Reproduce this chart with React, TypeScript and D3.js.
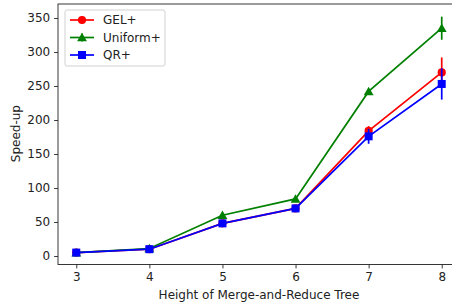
import React, { useEffect, useRef } from "react";
import * as d3 from "d3";

const heights = [3, 4, 5, 6, 7, 8];
const gelMean = [5, 10, 48, 70, 184, 270];
const gelErr = [1, 1, 2, 2, 7, 22];
const uniformMean = [5, 11, 60, 84, 242, 335];
const uniformErr = [1, 1, 2, 2, 3, 17];
const qrMean = [5, 10, 48, 70, 176, 253];
const qrErr = [1, 1, 2, 2, 11, 23];
const yTicks = [0, 50, 100, 150, 200, 250, 300, 350];

const series = [
  { name: "GEL+", color: "red", marker: "circle", mean: gelMean, err: gelErr },
  { name: "Uniform+", color: "green", marker: "triangle", mean: uniformMean, err: uniformErr },
  { name: "QR+", color: "blue", marker: "square", mean: qrMean, err: qrErr },
];

function App() {
  const ref = useRef<SVGSVGElement>(null);

  useEffect(() => {
    const width = 452;
    const height = 303;
    const margin = { top: 4, left: 58, bottom: 38.5, right: -8 };
    const iwidth = width - margin.left - margin.right;
    const iheight = height - margin.top - margin.bottom;
    const fs = 12;

    const svg = d3.select(ref.current);
    svg.selectAll("*").remove();
    const font = "'DejaVu Sans', sans-serif";

    const g = svg.append("g").attr("transform", `translate(${margin.left}, ${margin.top})`);

    const x = d3.scaleLinear().domain([2.75, 8.25]).range([0, iwidth]);
    const y = d3.scaleLinear().domain([-12.5, 370.6]).range([iheight, 0]);

    const symbolFor = (m: string) => {
      if (m === "circle") return d3.symbol().type(d3.symbolCircle).size(Math.PI * 4.1 * 4.1);
      if (m === "triangle") return d3.symbol().type(d3.symbolTriangle).size(42);
      return d3.symbol().type(d3.symbolSquare).size(64);
    };

    series.forEach((s) => {
      const pts = heights.map((h, i) => ({ h, m: s.mean[i], e: s.err[i] }));
      const sg = g.append("g");
      sg.selectAll("line.err")
        .data(pts)
        .enter()
        .append("line")
        .attr("x1", (d) => x(d.h))
        .attr("x2", (d) => x(d.h))
        .attr("y1", (d) => y(d.m - d.e))
        .attr("y2", (d) => y(d.m + d.e))
        .attr("stroke", s.color)
        .attr("stroke-width", 1.7);
      const line = d3.line<any>().x((d) => x(d.h)).y((d) => y(d.m));
      sg.append("path")
        .datum(pts)
        .attr("d", line)
        .attr("fill", "none")
        .attr("stroke", s.color)
        .attr("stroke-width", 1.7);
      sg.selectAll("path.mk")
        .data(pts)
        .enter()
        .append("path")
        .attr("d", symbolFor(s.marker)() as string)
        .attr("transform", (d) => `translate(${x(d.h)},${y(d.m) + (s.marker === "triangle" ? 1 : 0)})`)
        .attr("fill", s.color);
    });

    // axes
    const xAxis = g.append("g")
      .attr("transform", `translate(0, ${iheight})`)
      .call(d3.axisBottom(x).tickValues(heights).tickSize(3.9).tickPadding(3.9).tickFormat(d3.format("d")));
    const yAxis = g.append("g")
      .call(d3.axisLeft(y).tickValues(yTicks).tickSize(3.9).tickPadding(3.9));
    [xAxis, yAxis].forEach((a) => {
      a.selectAll("text").attr("font-family", font).attr("font-size", fs).attr("fill", "#222");
      a.selectAll("line").attr("stroke", "#222").attr("stroke-width", 0.9);
      a.select(".domain").remove();
    });

    g.append("rect")
      .attr("x", 0)
      .attr("y", 0)
      .attr("width", iwidth)
      .attr("height", iheight)
      .attr("fill", "none")
      .attr("stroke", "#222")
      .attr("stroke-width", 0.9);

    svg.append("text")
      .attr("x", margin.left + x(5.5))
      .attr("y", 299)
      .attr("text-anchor", "middle")
      .attr("font-family", font)
      .attr("font-size", fs)
      .attr("fill", "#222")
      .text("Height of Merge-and-Reduce Tree");

    svg.append("text")
      .attr("transform", `translate(20, ${margin.top + y(180)}) rotate(-90)`)
      .attr("text-anchor", "middle")
      .attr("font-family", font)
      .attr("font-size", fs)
      .attr("fill", "#222")
      .text("Speed-up");

    // legend
    const lg = svg.append("g").attr("transform", "translate(65, 10)");
    lg.append("rect")
      .attr("width", 100)
      .attr("height", 56)
      .attr("rx", 2)
      .attr("fill", "white")
      .attr("fill-opacity", 0.8)
      .attr("stroke", "#ccc")
      .attr("stroke-width", 0.9);
    series.forEach((s, i) => {
      const cy = 10 + i * 17.5;
      lg.append("line")
        .attr("x1", 5).attr("x2", 29).attr("y1", cy).attr("y2", cy)
        .attr("stroke", s.color).attr("stroke-width", 1.7);
      lg.append("line")
        .attr("x1", 17).attr("x2", 17).attr("y1", cy - 4).attr("y2", cy + 4)
        .attr("stroke", s.color).attr("stroke-width", 1.7);
      lg.append("path")
        .attr("d", symbolFor(s.marker)() as string)
        .attr("transform", `translate(17, ${cy + (s.marker === "triangle" ? 1 : 0)})`)
        .attr("fill", s.color);
      lg.append("text")
        .attr("x", 38)
        .attr("y", cy + 4.3)
        .attr("font-family", font)
        .attr("font-size", fs)
        .attr("fill", "#222")
        .text(s.name);
    });
  }, []);

  return (
    <svg ref={ref} width={452} height={303} style={{ position: "absolute", left: 0, top: 0 }} />
  );
}

export default App;
